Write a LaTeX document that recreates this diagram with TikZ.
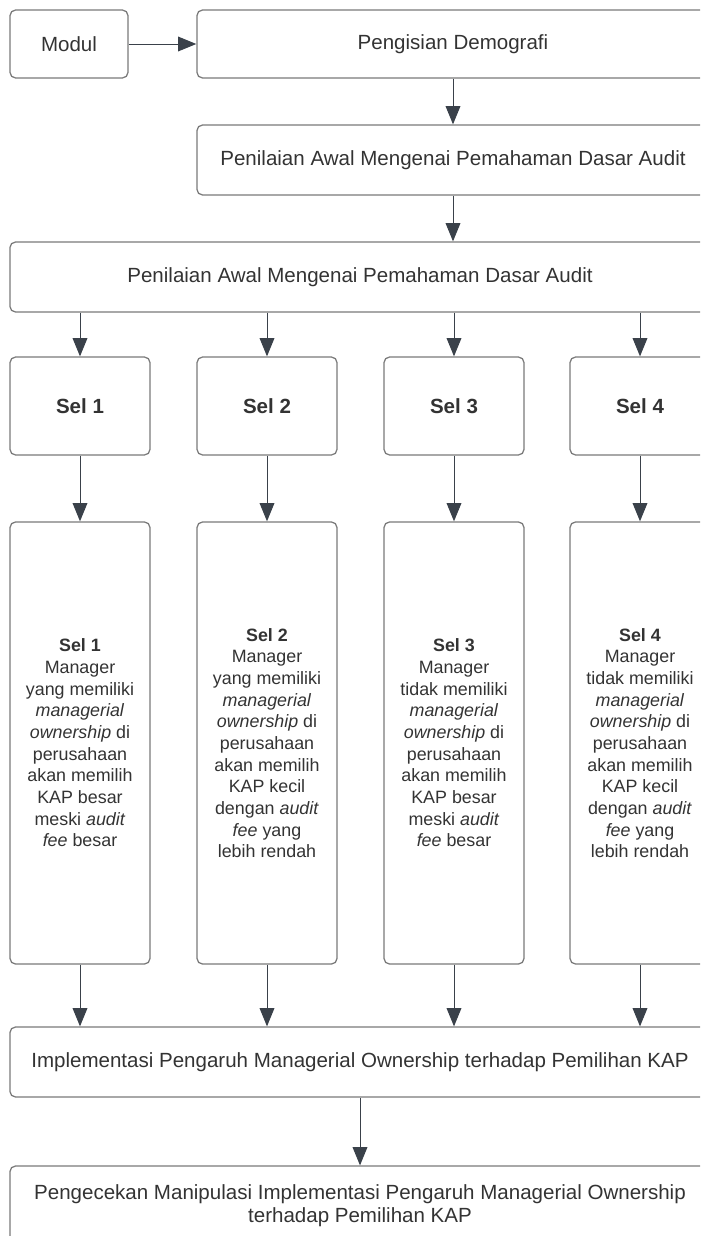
\documentclass[tikz,border=0pt]{standalone}
\usepackage{fontspec}
\setmainfont{Liberation Sans}
\usetikzlibrary{arrows.meta}

\definecolor{boxline}{HTML}{7A7A7A}
\definecolor{arrowc}{HTML}{3A414A}
\definecolor{textc}{HTML}{333333}

\tikzset{
    box/.style={draw=boxline, line width=0.9pt, rounded corners=4pt, align=center,
                inner sep=0pt, text=textc, font=\fontsize{14.6}{17}\selectfont},
    selbox/.style={box, minimum width=3.5cm, minimum height=2.45cm,
                   font=\fontsize{14.6}{17}\selectfont\bfseries},
    tallbox/.style={box, minimum width=3.5cm, minimum height=11.05cm,
                    font=\fontsize{12.7}{15.4}\selectfont},
    flow/.style={draw=arrowc, line width=0.7pt, -{Triangle[length=13pt, width=10.5pt]}}
}

\begin{document}
\begin{tikzpicture}[x=0.025cm, y=-0.025cm]
    \clip (0, 0) rectangle (700, 1236);

    % Top boxes
    \node[box, minimum width=2.95cm, minimum height=1.7cm] (modul) at (69, 44) {Modul};
    \node[box, minimum width=12.8cm, minimum height=1.7cm] (demo) at (453, 44) {Pengisian Demografi};
    \node[box, minimum width=12.8cm, minimum height=1.75cm] (pen1) at (453, 160) {Penilaian Awal Mengenai Pemahaman Dasar Audit};
    \node[box, minimum width=17.5cm, minimum height=1.75cm] (pen2) at (360, 277) {Penilaian Awal Mengenai Pemahaman Dasar Audit};

    \draw[flow] (modul) -- (demo);
    \draw[flow] (demo) -- (pen1);
    \draw[flow] (pen1.south) -- (pen2.north -| pen1.south);

    % Bottom boxes
    \node[box, minimum width=17.5cm, minimum height=1.75cm] (impl) at (360, 1062) {Implementasi Pengaruh Managerial Ownership terhadap Pemilihan KAP};
    \node[box, minimum width=17.5cm, minimum height=2cm, font=\fontsize{14.6}{16.4}\selectfont] (cek) at (360, 1206) {Pengecekan Manipulasi Implementasi Pengaruh Managerial Ownership\\terhadap Pemilihan KAP};

    \draw[flow] (impl) -- (cek);

    % Four cells
    \foreach \i/\x/\txt in {
        1/80/{Manager\\yang memiliki\\\textit{managerial}\\\textit{ownership} di\\perusahaan\\akan memilih\\KAP besar\\meski \textit{audit}\\\textit{fee} besar},
        2/267/{Manager\\yang memiliki\\\textit{managerial}\\\textit{ownership} di\\perusahaan\\akan memilih\\KAP kecil\\dengan \textit{audit}\\\textit{fee} yang\\lebih rendah},
        3/454/{Manager\\tidak memiliki\\\textit{managerial}\\\textit{ownership} di\\perusahaan\\akan memilih\\KAP besar\\meski \textit{audit}\\\textit{fee} besar},
        4/640/{Manager\\tidak memiliki\\\textit{managerial}\\\textit{ownership} di\\perusahaan\\akan memilih\\KAP kecil\\dengan \textit{audit}\\\textit{fee} yang\\lebih rendah}} {
        \node[selbox] (sel\i) at (\x, 406) {Sel \i};
        \node[tallbox] (det\i) at (\x, 743) {\textbf{Sel \i}\\\txt};
        \draw[flow] (pen2.south -| sel\i) -- (sel\i);
        \draw[flow] (sel\i) -- (det\i);
        \draw[flow] (det\i) -- (impl.north -| det\i);
    }
\end{tikzpicture}
\end{document}
